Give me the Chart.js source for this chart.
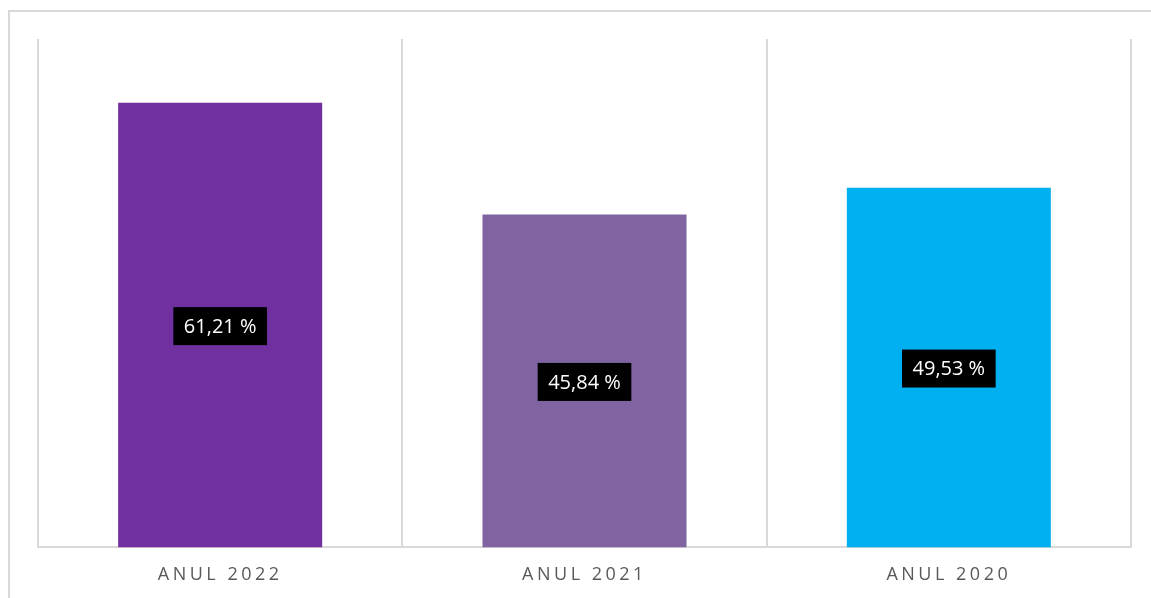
<!DOCTYPE html>
<html>
<head>
<meta charset="utf-8">
<script src="https://cdn.jsdelivr.net/npm/chart.js@4"></script>
<style>
	body { margin: 0; background: #fff; overflow: hidden; }
	#cadru {
		position: absolute;
		left: 8px;
		top: 10px;
		width: 1300px;
		height: 700px;
		border-top: 2px solid #d9d9d9;
		border-left: 2px solid #d9d9d9;
	}
	#grafico { position: absolute; left: 0; top: 0; }
</style>
</head>
<body>
<div id="cadru"></div>
<canvas id="grafico" width="1151" height="615"></canvas>
<script>
const categorii = ["ANUL 2022", "ANUL 2021", "ANUL 2020"];
const valori = [61.21, 45.84, 49.53];
const culori = ["#7030A0", "#8064A2", "#00B0F0"];
const etichete = ["61,21 %", "45,84 %", "49,53 %"];

// spatiere intre litere pentru etichetele axei X
const spatiereAxa = {
	id: "spatiereAxa",
	beforeDraw(chart) {
		chart.ctx.letterSpacing = "3.5px";
	},
	beforeDatasetsDraw(chart) {
		chart.ctx.letterSpacing = "0px";
	},
};

// etichete negre in mijlocul barelor
const eticheteBare = {
	id: "eticheteBare",
	afterDatasetsDraw(chart) {
		const ctx = chart.ctx;
		const meta = chart.getDatasetMeta(0);
		ctx.save();
		ctx.letterSpacing = "0px";
		ctx.font = "20px 'Open Sans', sans-serif";
		ctx.textAlign = "center";
		ctx.textBaseline = "middle";
		meta.data.forEach((bara, i) => {
			const text = etichete[i];
			const x = bara.x;
			const y = (bara.y + bara.base) / 2 + 1;
			const w = ctx.measureText(text).width + 21;
			const h = 38;
			ctx.fillStyle = "#000";
			ctx.fillRect(x - w / 2, y - h / 2, w, h);
			ctx.fillStyle = "#fff";
			ctx.fillText(text, x, y + 1);
		});
		ctx.restore();
	},
};

new Chart(document.querySelector("#grafico"), {
	type: "bar",
	data: {
		labels: categorii,
		datasets: [
			{
				data: valori,
				backgroundColor: culori,
				categoryPercentage: 1,
				barPercentage: 0.56,
			},
		],
	},
	options: {
		responsive: false,
		animation: false,
		layout: {
			padding: { left: 38, right: 20, top: 39, bottom: 12 },
		},
		plugins: {
			legend: { display: false },
			tooltip: { enabled: false },
		},
		scales: {
			x: {
				grid: {
					color: "#d9d9d9",
					lineWidth: 2,
					drawTicks: false,
				},
				border: { color: "#d9d9d9", width: 2 },
				ticks: {
					color: "#595959",
					padding: 17,
					font: { family: "'Open Sans', sans-serif", size: 18 },
				},
			},
			y: {
				display: false,
				min: 0,
				max: 70,
			},
		},
	},
	plugins: [spatiereAxa, eticheteBare],
});
</script>
</body>
</html>
